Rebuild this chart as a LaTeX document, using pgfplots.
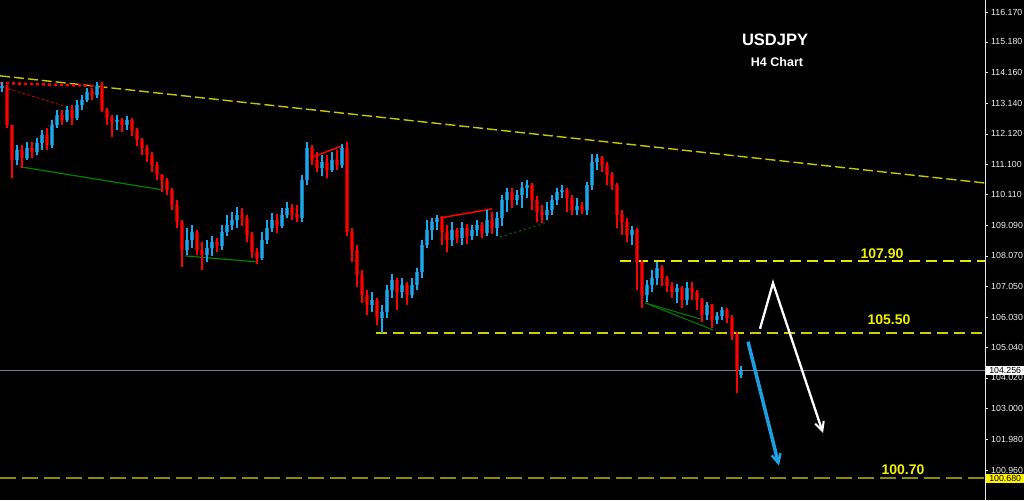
\documentclass[border=0pt]{standalone}
\usepackage{fontspec}
\setmainfont{Liberation Sans}
\usepackage{pgfplots}
\pgfplotsset{compat=1.18}
\usepackage{pgfplotstable}
\usetikzlibrary{arrows.meta}
\definecolor{bullw}{HTML}{19A9EE}
\definecolor{bullb}{HTML}{1C78A8}
\definecolor{bearw}{HTML}{FF0000}
\definecolor{bearb}{HTML}{A00000}
\definecolor{trendy}{HTML}{C8C800}
\definecolor{levely}{HTML}{CFCF00}
\definecolor{liney}{HTML}{E6E600}
\definecolor{lineolive}{HTML}{8C8C00}
\definecolor{pricegray}{HTML}{708090}
\definecolor{arrowblue}{HTML}{1EA0E0}
\definecolor{dgreen}{HTML}{008000}
\definecolor{labely}{HTML}{F0F000}

\pgfplotstableread{
x o h l c
2 113.65 113.85 113.52 113.71
7 113.71 113.75 112.32 112.42
12 112.42 112.42 110.66 111.26
17 111.26 111.76 111.09 111.59
22 111.59 111.76 110.99 111.32
27 111.32 111.86 111.26 111.66
32 111.66 111.86 111.32 111.52
37 111.52 111.99 111.42 111.82
42 111.82 112.25 111.59 112.09
47 112.09 112.32 111.59 111.76
52 111.76 112.59 111.66 112.42
57 112.42 112.92 112.32 112.75
62 112.75 112.92 112.42 112.59
67 112.59 113.05 112.52 112.92
72 112.92 113.08 112.42 112.65
77 112.65 113.25 112.59 113.08
82 113.08 113.42 112.92 113.25
87 113.25 113.65 113.18 113.52
92 113.52 113.65 113.25 113.42
97 113.42 113.85 113.32 113.71
102 113.71 113.85 112.85 112.92
107 112.92 112.98 112.42 112.65
112 112.65 112.75 112.02 112.52
117 112.52 112.75 112.25 112.59
122 112.59 112.65 112.19 112.42
127 112.42 112.72 112.25 112.59
132 112.59 112.65 112.05 112.25
137 112.25 112.32 111.72 111.92
142 111.92 111.99 111.42 111.66
147 111.66 111.76 111.19 111.42
152 111.42 111.52 110.86 111.09
157 111.09 111.19 110.59 110.76
162 110.76 110.79 110.20 110.59
167 110.59 110.66 110.10 110.26
172 110.26 110.33 109.60 109.76
177 109.76 109.93 109.00 109.20
182 109.20 109.27 107.71 108.27
187 108.27 109.00 108.10 108.60
192 108.60 109.10 108.34 108.87
197 108.87 108.93 108.10 108.27
202 108.27 108.54 107.61 108.10
207 108.10 108.60 107.87 108.34
212 108.34 108.73 108.07 108.54
217 108.54 108.67 108.20 108.40
222 108.40 109.10 108.27 108.87
227 108.87 109.43 108.73 109.10
232 109.10 109.53 108.93 109.27
237 109.27 109.70 109.00 109.43
242 109.43 109.66 109.07 109.33
247 109.33 109.43 108.54 108.77
252 108.77 108.87 108.00 108.20
257 108.20 108.34 107.81 108.00
262 108.00 108.87 107.94 108.60
267 108.60 109.27 108.47 109.00
272 109.00 109.50 108.87 109.27
277 109.27 109.47 108.83 109.07
282 109.07 109.66 109.00 109.43
287 109.43 109.86 109.33 109.66
292 109.66 109.80 109.27 109.47
297 109.47 109.76 109.20 109.33
302 109.33 110.76 109.20 110.59
307 110.59 111.86 110.43 111.66
312 111.66 111.76 111.09 111.26
317 111.26 111.52 110.86 110.99
322 110.99 111.42 110.73 111.19
327 111.19 111.42 110.66 110.93
332 110.93 111.52 110.86 111.26
337 111.26 111.59 110.93 111.09
342 111.09 111.79 110.99 111.66
347 111.66 111.86 108.73 108.87
352 108.87 109.00 107.87 108.27
357 108.27 108.44 107.04 107.44
362 107.44 107.61 106.51 106.78
367 106.78 106.94 106.11 106.44
372 106.44 106.88 106.21 106.61
377 106.61 106.68 105.78 106.01
382 106.01 106.44 105.51 106.21
387 106.21 107.11 106.01 106.94
392 106.94 107.47 106.68 107.27
397 107.27 107.34 106.28 106.88
402 106.88 107.34 106.68 107.11
407 107.11 107.21 106.44 106.78
412 106.78 107.34 106.68 107.11
417 107.11 107.67 106.94 107.54
422 107.54 108.60 107.34 108.44
427 108.44 109.27 108.34 108.93
432 108.93 109.33 108.60 109.20
437 109.20 109.43 108.93 109.33
442 109.33 109.40 108.44 108.87
447 108.87 109.10 108.20 108.60
452 108.60 109.20 108.40 108.93
457 108.93 109.00 108.50 108.67
462 108.67 109.20 108.44 109.00
467 109.00 109.13 108.47 108.73
472 108.73 109.10 108.60 108.93
477 108.93 109.27 108.73 109.10
482 109.10 109.20 108.67 108.83
487 108.83 109.60 108.73 109.27
492 109.27 109.53 108.80 109.00
497 109.00 109.53 108.73 109.33
502 109.33 110.10 109.07 109.93
507 109.93 110.33 109.53 110.20
512 110.20 110.33 109.66 109.93
517 109.93 110.26 109.76 110.10
522 110.10 110.53 109.66 110.33
527 110.33 110.59 110.00 110.43
532 110.43 110.49 109.60 109.93
537 109.93 110.06 109.20 109.53
542 109.53 109.76 109.17 109.43
547 109.43 109.86 109.27 109.60
552 109.60 110.10 109.43 109.93
557 109.93 110.33 109.76 110.20
562 110.20 110.43 110.00 110.26
567 110.26 110.33 109.53 110.00
572 110.00 110.10 109.43 109.60
577 109.60 110.00 109.43 109.73
582 109.73 109.86 109.47 109.60
587 109.60 110.53 109.43 110.43
592 110.43 111.46 110.26 111.19
597 111.19 111.46 110.93 111.32
602 111.32 111.39 110.86 111.09
607 111.09 111.19 110.43 110.76
612 110.76 110.86 110.26 110.43
617 110.43 110.49 109.00 109.43
622 109.43 109.60 108.77 109.20
627 109.20 109.33 108.54 108.77
632 108.77 109.07 108.44 108.93
637 108.93 109.00 106.94 107.87
642 107.87 107.94 106.34 106.78
647 106.78 107.27 106.54 107.11
652 107.11 107.61 106.88 107.34
657 107.34 107.87 107.11 107.67
662 107.67 107.77 107.08 107.34
667 107.34 107.41 106.88 107.08
672 107.08 107.21 106.68 106.88
677 106.88 107.14 106.51 107.01
682 107.01 107.08 106.34 106.61
687 106.61 107.21 106.44 107.01
692 107.01 107.21 106.61 106.88
697 106.88 106.94 106.28 106.61
702 106.61 106.68 105.88 106.11
707 106.11 106.54 105.95 106.44
712 106.44 106.48 105.68 105.95
717 105.95 106.21 105.81 106.08
722 106.08 106.38 105.95 106.28
727 106.28 106.34 105.85 106.01
732 106.01 106.11 105.28 105.45
737 105.45 105.55 103.52 104.29
741 104.10 104.42 104.02 104.26
}\candles

\begin{document}
\begin{tikzpicture}
\fill[black] (0,0) rectangle (1024pt,500pt);
\useasboundingbox (0,0) rectangle (1024pt,500pt);
\begin{axis}[
  at={(0pt,0pt)}, anchor=south west,
  scale only axis, width=985pt, height=500pt,
  xmin=0, xmax=985, ymin=99.963, ymax=116.5685,
  clip=false,
  axis x line=none,
  axis y line*=right,
  y axis line style={color=white!80!gray, line width=0.8pt},
  ytick={100.96,101.98,103.00,104.02,105.04,106.03,107.05,108.07,109.09,110.11,111.10,112.12,113.14,114.16,115.18,116.17},
  scaled y ticks=false,
  tick align=outside,
  major tick length=3pt,
  major tick style={color=white!80!gray, line width=0.6pt},
  /pgf/number format/fixed,
  /pgf/number format/fixed zerofill,
  /pgf/number format/precision=3,
  /pgf/number format/assume math mode=true,
  /pgf/number format/1000 sep={},
  y tick label style={font=\fontsize{8.8}{10}\selectfont, text=white!88!gray, inner sep=0pt, xshift=3pt},
  after end axis/.code={
    \node[anchor=west, fill=white, text=black, inner xsep=2pt, inner ysep=1.5pt, font=\fontsize{8.8}{10}\selectfont, minimum width=38pt, align=left] at (axis cs:986,104.256) {104.256};
    \node[anchor=west, fill=yellow, text=black, inner xsep=2pt, inner ysep=1.5pt, font=\fontsize{8.8}{10}\selectfont, minimum width=38pt] at (axis cs:986,100.68) {100.680};
  },
]
% horizontal levels
\addplot[pricegray, line width=1.2pt] coordinates {(0,104.256) (985,104.256)};
\addplot[lineolive, line width=2pt, dash pattern=on 16pt off 6pt] coordinates {(0,100.70) (985,100.70)};
\addplot[color=levely, line width=1.6pt, dash pattern=on 11pt off 6pt] coordinates {(376,105.50) (985,105.50)};
\addplot[liney, line width=1.3pt, dash pattern=on 11pt off 6pt] coordinates {(620,107.90) (985,107.90)};
% descending trendline
\addplot[trendy, line width=1.4pt, dash pattern=on 10pt off 4pt] coordinates {(0,114.05) (985,110.49)};
% pattern lines
\addplot[bearw, line width=2.5pt, dash pattern=on 3pt off 3pt] coordinates {(0,113.81) (100,113.71)};
\addplot[bearw!80!black, line width=0.8pt, dash pattern=on 3pt off 2pt] coordinates {(8,113.62) (67,113.02)};
\addplot[dgreen, line width=1.2pt] coordinates {(20,111.03) (163,110.26)};
\addplot[dgreen, line width=1.2pt] coordinates {(185,108.07) (257,107.87)};
\addplot[bearw, line width=1.5pt] coordinates {(313,111.36) (342,111.72)};
\addplot[bearw, line width=1.5pt] coordinates {(440,109.33) (492,109.63)};
\addplot[dgreen!80!black, line width=1.2pt, dash pattern=on 2pt off 3pt] coordinates {(500,108.70) (547,109.17)};
\addplot[dgreen, line width=1pt] coordinates {(645,106.51) (713,105.61)};
\addplot[dgreen, line width=1pt] coordinates {(645,106.51) (703,105.95)};
% candles: bodies
\addplot[draw=none, mark=none, error bars/.cd, y dir=both, y explicit, error mark=none, error bar style={line width=4pt, color=bullb}]
  table[x=x, y expr={\thisrow{c}>=\thisrow{o} ? (\thisrow{o}+\thisrow{c})/2 : nan}, y error expr={abs(\thisrow{c}-\thisrow{o})/2}] {\candles};
\addplot[draw=none, mark=none, error bars/.cd, y dir=both, y explicit, error mark=none, error bar style={line width=4pt, color=bearb}]
  table[x=x, y expr={\thisrow{c}<\thisrow{o} ? (\thisrow{o}+\thisrow{c})/2 : nan}, y error expr={abs(\thisrow{c}-\thisrow{o})/2}] {\candles};
% candles: wicks
\addplot[draw=none, mark=none, error bars/.cd, y dir=both, y explicit, error mark=none, error bar style={line width=1.3pt, color=bullw}]
  table[x=x, y expr={\thisrow{c}>=\thisrow{o} ? (\thisrow{h}+\thisrow{l})/2 : nan}, y error expr={(\thisrow{h}-\thisrow{l})/2}] {\candles};
\addplot[draw=none, mark=none, error bars/.cd, y dir=both, y explicit, error mark=none, error bar style={line width=1.3pt, color=bearw}]
  table[x=x, y expr={\thisrow{c}<\thisrow{o} ? (\thisrow{h}+\thisrow{l})/2 : nan}, y error expr={(\thisrow{h}-\thisrow{l})/2}] {\candles};
% forecast arrows
\addplot[white, line width=2.3pt, -{Straight Barb[length=9pt, width=9pt, line width=2pt]}] coordinates {(760,105.65) (773,107.17) (823,102.19)};
\addplot[arrowblue, line width=3.5pt, -{Straight Barb[length=9pt, width=9pt, line width=2.5pt]}] coordinates {(748,105.22) (779,101.10)};
% texts
\node[text=white, font=\bfseries\fontsize{16.5}{18}\selectfont] at (axis cs:775,115.24) {USDJPY};
\node[text=white, font=\bfseries\fontsize{12.5}{14}\selectfont] at (axis cs:777,114.51) {H4 Chart};
\node[text=labely, font=\bfseries\fontsize{14}{16}\selectfont] at (axis cs:882,108.14) {107.90};
\node[text=labely, font=\bfseries\fontsize{14}{16}\selectfont] at (axis cs:889,105.95) {105.50};
\node[text=labely, font=\bfseries\fontsize{14}{16}\selectfont] at (axis cs:903,100.98) {100.70};
\end{axis}
\end{tikzpicture}
\end{document}
